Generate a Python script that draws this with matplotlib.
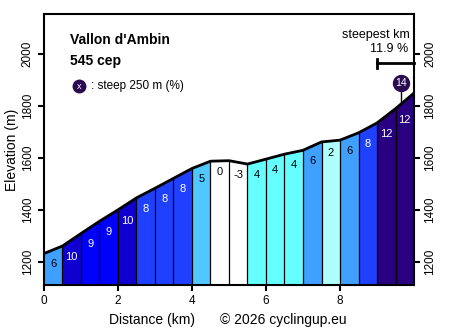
import matplotlib
matplotlib.use("Agg")
import matplotlib.pyplot as plt
import numpy as np

plt.rcParams['font.family'] = ['Liberation Sans', 'DejaVu Sans']

# distance (km) at each half-km boundary and elevation (m) there
dist = [0.0, 0.5, 1.0, 1.5, 2.0, 2.5, 3.0, 3.5, 4.0, 4.5, 5.0,
        5.5, 6.0, 6.5, 7.0, 7.5, 8.0, 8.5, 9.0, 9.5, 10.0]
elev = [1233, 1262, 1310, 1357, 1401, 1447, 1484, 1522, 1560, 1588, 1590,
        1577, 1596, 1615, 1630, 1662, 1669, 1697, 1735, 1790, 1850]
# gradient (%) printed in each half-km segment
grade = [6, 10, 9, 9, 10, 8, 8, 8, 5, 0, -3, 4, 4, 4, 6, 2, 6, 8, 12, 12]

steep_km = 9.65
steep_val = 14
steepest_start = 9.0
steepest_km = 11.9
title = "Vallon d'Ambin"
subtitle = "545 cep"

colors = {-3: 'white', 0: 'white', 2: '#b0ffff', 4: '#66ffff', 5: '#50c8ff',
          6: '#40a0ff', 8: '#2040ff', 9: '#0000ff', 10: '#1000d0', 12: '#280080'}
dark = {8, 9, 10, 12}

fig = plt.figure(figsize=(4.54, 3.32), dpi=100)
ax = fig.add_axes([0.0969, 0.1416, 0.815, 0.8162])
ymin, ymax = 1112, 2154
ax.set_xlim(0, 10)
ax.set_ylim(ymin, ymax)

for i, g in enumerate(grade):
    x0, x1 = dist[i], dist[i + 1]
    ax.fill_between([x0, x1], [ymin, ymin], [elev[i], elev[i + 1]],
                    color=colors[g], lw=0)
    ax.text((x0 + x1) / 2, min(elev[i], elev[i + 1]) - 42, str(g),
            ha='center', va='center', fontsize=8,
            color='white' if g in dark else 'black')
for x, e in zip(dist[1:-1], elev[1:-1]):
    ax.plot([x, x], [ymin, e], color='black', lw=0.9)
ax.plot(dist, elev, color='black', lw=2, solid_capstyle='butt')

# steep 250 m marker
ye = np.interp(steep_km, dist, elev)
ax.plot([steep_km, steep_km], [ye, ye + 60], color='black', lw=1)
ax.plot(steep_km, ye + 82, 'o', ms=11.5, color='#2a0a50')
ax.text(steep_km, ye + 82, str(steep_val), color='white', fontsize=7.5,
        ha='center', va='center')

# steepest km bracket
ax.plot([steepest_start, 10], [1964, 1964], color='black', lw=2, clip_on=False)
ax.plot([steepest_start, steepest_start], [1946, 1982], color='black', lw=2)
ax.text(9.88, 2073, "steepest km", ha='right', va='center', fontsize=9)
ax.text(9.85, 2019, "%.1f %%" % steepest_km, ha='right', va='center', fontsize=9)

# title and legend
ax.text(0.07, 0.905, title, transform=ax.transAxes, fontsize=10,
        fontweight='bold', va='center')
ax.text(0.07, 0.825, subtitle, transform=ax.transAxes, fontsize=10,
        fontweight='bold', va='center')
ax.plot(0.095, 0.733, 'o', ms=9, color='#2a0a50', transform=ax.transAxes)
ax.text(0.095, 0.733, "x", color='white', fontsize=6.5, ha='center',
        va='center', transform=ax.transAxes)
ax.text(0.128, 0.733, ": steep 250 m (%)", transform=ax.transAxes,
        fontsize=8.5, va='center')

ax.set_xticks([0, 2, 4, 6, 8])
ax.set_yticks([1200, 1400, 1600, 1800, 2000])
ax.tick_params(labelsize=8.5, width=1.5, length=4, right=True, labelright=True)
for lab in ax.get_yticklabels():
    lab.set_rotation(90)
    lab.set_va('center')
for s in ax.spines.values():
    s.set_linewidth(1.5)
ax.set_ylabel("Elevation (m)", fontsize=10, labelpad=2)
fig.text(0.335, 0.025, "Distance (km)", ha='center', fontsize=10)
fig.text(0.625, 0.025, "\u00a9 2026 cyclingup.eu", ha='center', fontsize=10)

fig.savefig("out.png", dpi=100)
